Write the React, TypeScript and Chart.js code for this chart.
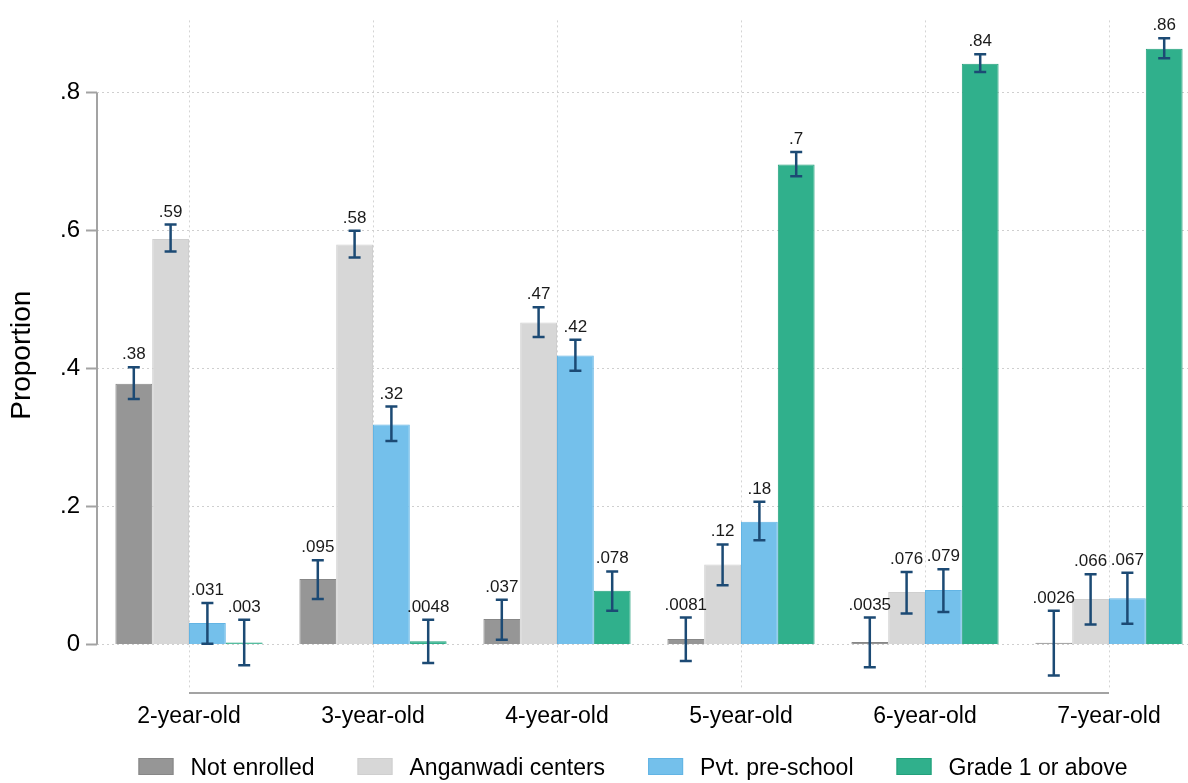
import React, { useEffect, useRef } from 'react';
import { Chart, registerables } from 'chart.js';

Chart.register(...registerables);

const FONT = '"Liberation Sans", Arial, Helvetica, sans-serif';

const categories = ['2-year-old', '3-year-old', '4-year-old', '5-year-old', '6-year-old', '7-year-old'];
const seriesNames = ['Not enrolled', 'Anganwadi centers', 'Pvt. pre-school', 'Grade 1 or above'];
const seriesColors = ['#969696', '#d7d7d7', '#74c0eb', '#30b08c'];
const seriesBorders = ['#878787', '#cfcfcf', '#62b4e4', '#23a07b'];

const notEnrolled = [0.378, 0.095, 0.037, 0.0081, 0.0035, 0.0026];
const notEnrolledLo = [0.356, 0.066, 0.007, -0.024, -0.033, -0.045];
const notEnrolledHi = [0.402, 0.122, 0.065, 0.039, 0.039, 0.049];

const anganwadi = [0.588, 0.58, 0.467, 0.116, 0.076, 0.066];
const anganwadiLo = [0.57, 0.561, 0.446, 0.086, 0.045, 0.029];
const anganwadiHi = [0.609, 0.6, 0.489, 0.145, 0.105, 0.102];

const pvtPreschool = [0.031, 0.319, 0.419, 0.178, 0.079, 0.067];
const pvtPreschoolLo = [0.001, 0.295, 0.397, 0.151, 0.047, 0.03];
const pvtPreschoolHi = [0.06, 0.345, 0.442, 0.207, 0.109, 0.104];

const grade1 = [0.003, 0.0048, 0.078, 0.696, 0.842, 0.864];
const grade1Lo = [-0.03, -0.027, 0.049, 0.679, 0.83, 0.85];
const grade1Hi = [0.036, 0.036, 0.106, 0.714, 0.856, 0.879];

const yTickValues = [0, 0.2, 0.4, 0.6, 0.8];
const yTickLabels = ['0', '.2', '.4', '.6', '.8'];
const yMin = -0.066;
const yMax = 0.905;

const seriesValues = [notEnrolled, anganwadi, pvtPreschool, grade1];
const seriesLows = [notEnrolledLo, anganwadiLo, pvtPreschoolLo, grade1Lo];
const seriesHighs = [notEnrolledHi, anganwadiHi, pvtPreschoolHi, grade1Hi];

const fmt = (v: number) => {
  const s = String(Number(v.toPrecision(2)));
  return s.replace(/^0\./, '.').replace(/^-0\./, '-.');
};

const overlayPlugin = {
  id: 'overlayPlugin',
  afterDatasetsDraw(chart: any) {
    const ctx = chart.ctx;
    const ys = chart.scales.y;
    const xs = chart.scales.x;
    const area = chart.chartArea;
    ctx.save();
    // y axis line over tick range
    ctx.strokeStyle = '#a3a3a3';
    ctx.lineWidth = 2;
    ctx.beginPath();
    ctx.moveTo(area.left, ys.getPixelForValue(yTickValues[yTickValues.length - 1]));
    ctx.lineTo(area.left, ys.getPixelForValue(yTickValues[0]));
    ctx.stroke();
    // x axis line between first and last category
    const xa = area.bottom + 3;
    ctx.beginPath();
    ctx.moveTo(xs.getPixelForValue(0), xa);
    ctx.lineTo(xs.getPixelForValue(categories.length - 1), xa);
    ctx.stroke();
    // error bars + value labels
    chart.data.datasets.forEach((ds: any, i: number) => {
      const meta = chart.getDatasetMeta(i);
      meta.data.forEach((bar: any, j: number) => {
        const cx = bar.x;
        const hi = ys.getPixelForValue(seriesHighs[i][j]);
        const lo = ys.getPixelForValue(seriesLows[i][j]);
        ctx.strokeStyle = '#1c4a74';
        ctx.lineWidth = 2.5;
        ctx.beginPath();
        ctx.moveTo(cx, hi);
        ctx.lineTo(cx, lo);
        ctx.moveTo(cx - 6, hi);
        ctx.lineTo(cx + 6, hi);
        ctx.moveTo(cx - 6, lo);
        ctx.lineTo(cx + 6, lo);
        ctx.stroke();
        ctx.fillStyle = '#1a1a1a';
        ctx.font = `17px ${FONT}`;
        ctx.textAlign = 'center';
        ctx.textBaseline = 'alphabetic';
        ctx.fillText(fmt(ds.data[j]), cx, hi - 8);
      });
    });
    ctx.restore();
  },
  afterDraw(chart: any) {
    const ctx = chart.ctx;
    ctx.save();
    ctx.font = `23px ${FONT}`;
    const boxW = 35;
    const boxH = 17;
    const boxGap = 17;
    const itemGap = 43;
    const widths = seriesNames.map((n) => boxW + boxGap + ctx.measureText(n).width);
    const total = widths.reduce((a, b) => a + b, 0) + itemGap * (seriesNames.length - 1);
    let x = 633 - total / 2;
    const boxTop = 758;
    seriesNames.forEach((n, i) => {
      ctx.fillStyle = seriesColors[i];
      ctx.fillRect(x, boxTop, boxW, boxH);
      ctx.strokeStyle = seriesBorders[i];
      ctx.lineWidth = 1;
      ctx.strokeRect(x + 0.5, boxTop + 0.5, boxW - 1, boxH - 1);
      ctx.fillStyle = '#000';
      ctx.textAlign = 'left';
      ctx.textBaseline = 'alphabetic';
      ctx.fillText(n, x + boxW + boxGap, 775);
      x += widths[i] + itemGap;
    });
    ctx.restore();
  },
};

export default function App() {
  const ref = useRef<HTMLCanvasElement>(null);
  useEffect(() => {
    Chart.defaults.font.family = FONT;
    const chart = new Chart(ref.current as HTMLCanvasElement, {
      type: 'bar',
      data: {
        labels: categories,
        datasets: seriesNames.map((name, i) => ({
          label: name,
          data: seriesValues[i],
          backgroundColor: seriesColors[i],
          borderColor: seriesBorders[i],
          borderWidth: 1,
          categoryPercentage: 0.8,
          barPercentage: 1.0,
        })),
      },
      options: {
        responsive: false,
        animation: false,
        devicePixelRatio: 1,
        layout: { padding: { left: 0, right: 14, top: 15, bottom: 48 } },
        plugins: {
          legend: { display: false },
          tooltip: { enabled: false },
        },
        scales: {
          x: {
            type: 'category',
            offset: true,
            grid: {
              offset: false,
              display: true,
              drawTicks: false,
              color: '#d4d4d4',
              lineWidth: 1,
            },
            border: { display: false, dash: [2, 3] },
            ticks: {
              font: { size: 23, family: FONT },
              color: '#000',
              padding: 13,
              maxRotation: 0,
              autoSkip: false,
            },
            afterFit: (s: any) => {
              s.height = 45;
            },
          },
          y: {
            min: yMin,
            max: yMax,
            afterBuildTicks: (s: any) => {
              s.ticks = yTickValues.map((v) => ({ value: v }));
            },
            grid: {
              drawTicks: true,
              tickLength: 11,
              tickColor: '#a3a3a3',
              tickWidth: 2,
              tickBorderDash: [],
              color: '#cfcfcf',
              lineWidth: 1,
            },
            border: { display: false, dash: [2, 3] },
            ticks: {
              font: { size: 24, family: FONT },
              color: '#000',
              padding: 6,
              callback: (value: any) => {
                const idx = yTickValues.indexOf(Number(value));
                return idx >= 0 ? yTickLabels[idx] : '';
              },
            },
            title: {
              display: true,
              text: 'Proportion',
              font: { size: 28, family: FONT },
              color: '#000',
              padding: { top: 5, bottom: 0 },
            },
            afterFit: (s: any) => {
              s.width = 97;
            },
          },
        },
      },
      plugins: [overlayPlugin],
    } as any);
    return () => chart.destroy();
  }, []);
  return (
    <div
      style={{
        position: 'fixed',
        left: 0,
        top: 0,
        width: 1188,
        height: 783,
        overflow: 'hidden',
        background: '#fff',
      }}
    >
      <canvas ref={ref} width={1215} height={783} style={{ display: 'block', width: 1215, height: 783 }} />
    </div>
  );
}
